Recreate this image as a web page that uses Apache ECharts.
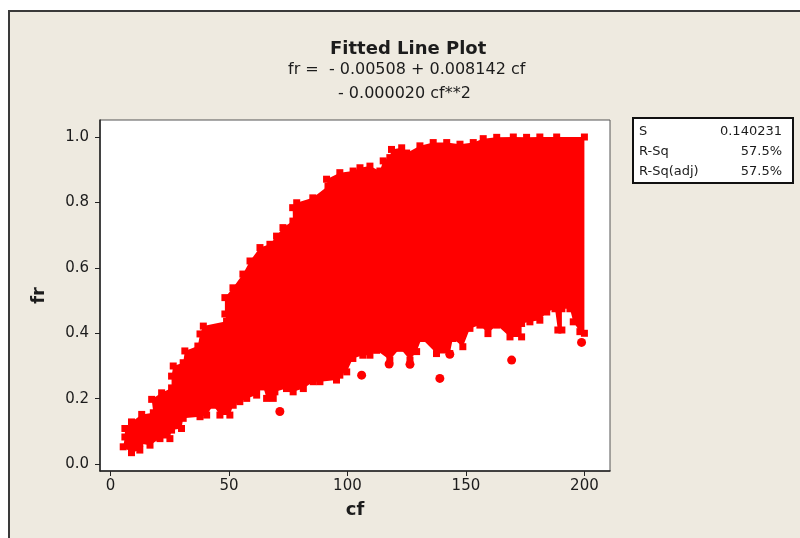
<!DOCTYPE html>
<html>
<head>
<meta charset="utf-8">
<script src="https://cdn.jsdelivr.net/npm/echarts@6/dist/echarts.min.js"></script>
<style>
  html, body { margin: 0; padding: 0; background: #ffffff; }
  #fitted-line-plot { width: 800px; height: 538px; }
</style>
</head>
<body>
<div id="fitted-line-plot"></div>
<script>
// outline of the dense point cloud (cf, fr), traced round from the lower-left tip
const envelopeCf = [
  8.9, 5.4, 6.1, 6.1, 8.9, 13.2, 18.1, 17.4, 21.6, 25.8, 25.8, 26.5, 30.7, 31.4, 36.9, 37.8,
  39.2, 49.0, 48.3, 48.3, 51.7, 55.9, 58.9, 63.1, 67.3, 70.1, 72.8, 77.0, 76.9, 78.6, 85.4,
  91.8, 91.2, 96.8, 102.4, 105.3, 109.5, 113.7, 115.1, 117.9, 118.6, 122.9, 125.0, 130.6,
  136.2, 141.9, 147.5, 153.1, 157.3, 163.0, 170.0, 175.6, 181.2, 188.3, 200.0,
  200.0, 198.1, 195.3, 193.9, 190.5, 190.5, 188.8, 187.6, 184.1, 181.2, 177.0, 173.5, 173.5,
  168.6, 163.0, 159.3, 155.9, 151.7, 148.7, 144.5, 143.2, 137.6, 131.3, 129.2, 126.4, 122.2,
  117.9, 112.3, 109.5, 106.5, 102.3, 99.7, 96.8, 95.4, 88.4, 85.6, 81.4, 77.1, 74.3, 69.4,
  68.7, 65.9, 64.5, 61.7, 61.7, 57.5, 54.6, 51.8, 50.4, 46.2, 43.4, 40.6, 37.8, 30.7, 30.0,
  25.8, 25.1, 20.9, 16.7, 12.4, 12.4
];
const envelopeFr = [
  0.035, 0.053, 0.083, 0.109, 0.129, 0.152, 0.157, 0.198, 0.218, 0.233, 0.269, 0.300, 0.310,
  0.346, 0.361, 0.398, 0.422, 0.437, 0.459, 0.509, 0.539, 0.581, 0.621, 0.662, 0.672, 0.697,
  0.723, 0.743, 0.784, 0.799, 0.814, 0.850, 0.871, 0.891, 0.896, 0.906, 0.911, 0.896, 0.927,
  0.937, 0.962, 0.967, 0.951, 0.973, 0.983, 0.983, 0.978, 0.983, 0.995, 0.999, 1.000, 0.999,
  1.000, 1.000, 1.000,
  0.400, 0.405, 0.435, 0.475, 0.475, 0.410, 0.410, 0.475, 0.465, 0.440, 0.435, 0.430, 0.389,
  0.389, 0.425, 0.399, 0.425, 0.415, 0.359, 0.384, 0.338, 0.338, 0.384, 0.344, 0.318, 0.354,
  0.318, 0.348, 0.333, 0.333, 0.323, 0.282, 0.272, 0.257, 0.252, 0.252, 0.231, 0.221, 0.231,
  0.221, 0.201, 0.201, 0.236, 0.231, 0.211, 0.201, 0.191, 0.180, 0.150, 0.150, 0.180, 0.150,
  0.145, 0.140, 0.109, 0.104, 0.078, 0.078, 0.058, 0.063, 0.043
];

// stray points below the cloud
const outlierCf = [71.5, 106.0, 117.6, 126.4, 139.0, 143.2, 169.3, 198.8];
const outlierFr = [0.161, 0.272, 0.306, 0.305, 0.262, 0.336, 0.318, 0.372];

const xTicks = [0, 50, 100, 150, 200];
const yTicks = [0, 0.2, 0.4, 0.6, 0.8, 1.0];

const statNames = ["S", "R-Sq", "R-Sq(adj)"];
const statValues = ["0.140231", "57.5%", "57.5%"];

const chart = echarts.init(document.getElementById("fitted-line-plot"));

const textColor = "#1c1c1c";
const font = "'DejaVu Sans', 'Liberation Sans', sans-serif";

const statsTexts = [];
statNames.forEach((name, i) => {
  statsTexts.push({
    type: "text",
    left: 639,
    top: 125 + i * 20,
    style: { text: name, fill: textColor, font: "13px " + font },
  });
  statsTexts.push({
    type: "text",
    right: 800 - 782,
    top: 125 + i * 20,
    style: { text: statValues[i], fill: textColor, font: "13px " + font, textAlign: "right" },
  });
});

const option = {
  backgroundColor: "#ffffff",
  animation: false,
  graphic: [
    {
      type: "rect",
      z: -100,
      shape: { x: 9, y: 11, width: 800, height: 540 },
      style: { fill: "#eeeae0", stroke: "#3a3a3a", lineWidth: 2 },
    },
    {
      type: "text",
      left: 330,
      top: 40,
      style: { text: "Fitted Line Plot", fill: textColor, font: "bold 18px " + font },
    },
    {
      type: "text",
      left: 288,
      top: 62,
      style: { text: "fr =  - 0.00508 + 0.008142 cf", fill: textColor, font: "16px " + font },
    },
    {
      type: "text",
      left: 338,
      top: 86,
      style: { text: "- 0.000020 cf**2", fill: textColor, font: "16px " + font },
    },
    {
      type: "rect",
      shape: { x: 633, y: 118, width: 160, height: 65 },
      style: { fill: "#ffffff", stroke: "#111111", lineWidth: 2 },
    },
    ...statsTexts,
  ],
  grid: {
    left: 100,
    top: 120,
    right: 190,
    bottom: 67,
    show: true,
    backgroundColor: "#ffffff",
    borderColor: "#555555",
    borderWidth: 1,
  },
  xAxis: {
    type: "value",
    min: -4.4,
    max: 210.8,
    name: "cf",
    nameLocation: "middle",
    nameGap: 30,
    nameTextStyle: { fontFamily: font, fontSize: 18, fontWeight: "bold", color: textColor },
    axisLine: { onZero: false, lineStyle: { color: "#222222", width: 1.5 } },
    axisTick: { show: true, customValues: xTicks, length: 5, lineStyle: { color: "#222222" } },
    axisLabel: {
      customValues: xTicks,
      margin: 8,
      fontFamily: font,
      fontSize: 15,
      color: textColor,
    },
    splitLine: { show: false },
  },
  yAxis: {
    type: "value",
    min: -0.021,
    max: 1.052,
    name: "fr",
    nameLocation: "middle",
    nameGap: 52,
    nameTextStyle: { fontFamily: font, fontSize: 18, fontWeight: "bold", color: textColor },
    axisLine: { onZero: false, lineStyle: { color: "#222222", width: 1.5 } },
    axisTick: { show: true, customValues: yTicks, length: 5, lineStyle: { color: "#222222" } },
    axisLabel: {
      customValues: yTicks,
      margin: 11,
      fontFamily: font,
      fontSize: 15,
      color: textColor,
      formatter: (v) => v.toFixed(1),
    },
    splitLine: { show: false },
  },
  series: [
    {
      type: "custom",
      silent: true,
      clip: true,
      data: [[envelopeCf[0], envelopeFr[0]]],
      renderItem: (params, api) => {
        const points = envelopeCf.map((c, i) => api.coord([c, envelopeFr[i]]));
        return {
          type: "polygon",
          shape: { points: points },
          style: { fill: "#ff0000" },
        };
      },
    },
    {
      // points sitting on the rim of the cloud
      type: "scatter",
      silent: true,
      symbol: "rect",
      symbolSize: 7,
      itemStyle: { color: "#ff0000", opacity: 1 },
      data: envelopeCf.map((c, i) => [c, envelopeFr[i]]),
    },
    {
      type: "scatter",
      silent: true,
      symbol: "circle",
      symbolSize: 9,
      itemStyle: { color: "#ff0000", opacity: 1 },
      data: outlierCf.map((c, i) => [c, outlierFr[i]]),
    },
  ],
};

chart.setOption(option);
</script>
</body>
</html>
